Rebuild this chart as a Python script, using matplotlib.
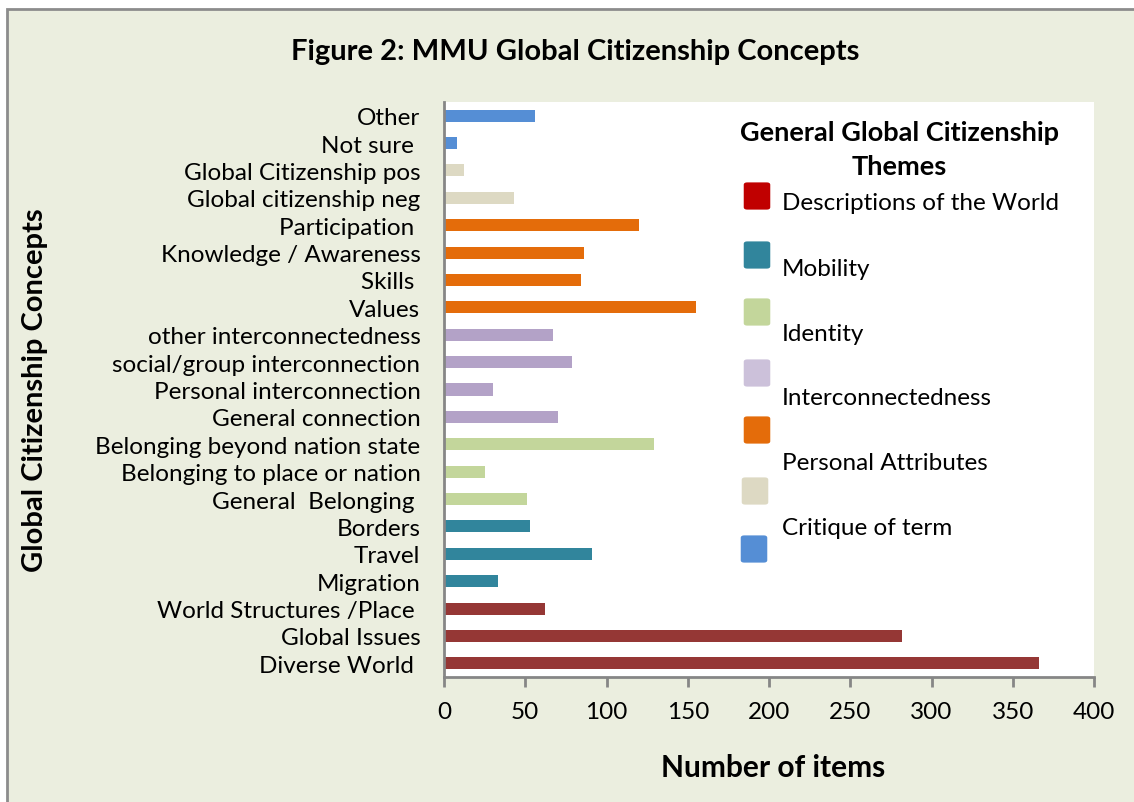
import matplotlib.pyplot as plt
from matplotlib.patches import Rectangle, FancyBboxPatch

# categories listed bottom -> top, as they are drawn
concepts = ["Diverse World ", "Global Issues", "World Structures /Place ",
            "Migration", "Travel", "Borders", "General  Belonging ",
            "Belonging to place or nation", "Belonging beyond nation state",
            "General connection", "Personal interconnection",
            "social/group interconnection", "other interconnectedness",
            "Values", "Skills ", "Knowledge / Awareness", "Participation ",
            "Global citizenship neg", "Global Citizenship pos", "Not sure ", "Other"]
items = [366, 282, 62, 33, 91, 53, 51, 25, 129, 70, 30, 79, 67,
         155, 84, 86, 120, 43, 12, 8, 56]
theme_of = [0, 0, 0, 1, 1, 1, 2, 2, 2, 3, 3, 3, 3, 4, 4, 4, 4, 5, 5, 6, 6]

themes = ["Descriptions of the World", "Mobility", "Identity",
          "Interconnectedness", "Personal Attributes", "Critique of term"]
bar_colors = ["#953735", "#31859C", "#C3D69B", "#B3A2C7", "#E46C0A", "#DDD9C3", "#558ED5"]
legend_colors = ["#C00000", "#31859C", "#C3D69B", "#CCC1DA", "#E46C0A", "#DDD9C3", "#558ED5"]

plt.rcParams['font.family'] = ['Lato', 'DejaVu Sans']
BG = "#EBEEDF"
W, H = 1134, 803
FS = 17.5

fig = plt.figure(figsize=(W / 100, H / 100), dpi=100)
fig.patch.set_facecolor("white")
fig.patches.append(Rectangle((7 / W, -0.05), 1.1, 1 - 10 / H + 0.05, transform=fig.transFigure,
                             facecolor=BG, edgecolor="#8C8C8C", linewidth=2, zorder=-5))

ax = fig.add_axes([444 / W, 1 - 678 / H, 650 / W, 575 / H])
ax.set_zorder(1)
ax.set_facecolor("white")
ypos = list(range(len(concepts)))
ax.barh(ypos, items, height=0.44, color=[bar_colors[t] for t in theme_of], zorder=2)
ax.set_ylim(-0.5, len(concepts) - 0.5)
ax.set_xlim(0, 400)
ax.set_xticks(range(0, 401, 50))
ax.set_yticks(ypos)
ax.set_yticklabels(concepts, fontsize=FS)
ax.tick_params(axis="y", length=0, pad=17)
ax.tick_params(axis="x", length=7, width=2, color="#868686", labelsize=FS, pad=10)
for s in ["top", "right"]:
    ax.spines[s].set_visible(False)
for s in ["left", "bottom"]:
    ax.spines[s].set_color("#868686")
    ax.spines[s].set_linewidth(2)

fig.text(575 / W, 1 - 52 / H, "Figure 2: MMU Global Citizenship Concepts",
         ha="center", va="center", fontsize=21, fontweight="bold")
fig.text(35 / W, 1 - 390 / H, "Global Citizenship Concepts", rotation=90,
         ha="center", va="center", fontsize=21, fontweight="bold")
fig.text(773 / W, 1 - 768 / H, "Number of items",
         ha="center", va="center", fontsize=21.5, fontweight="bold")

# legend, drawn by hand to follow the original's uneven layout
fig.text(899 / W, 1 - 150 / H, "General Global Citizenship\nThemes", ha="center",
         va="center", fontsize=19.5, fontweight="bold", linespacing=1.5)
patch_tops = [183, 242, 299, 360, 417, 478, 536]
patch_x = [744, 744, 744, 744, 744, 742, 741]
label_y = [203, 269, 335, 399, 464, 529]
for i, c in enumerate(legend_colors):
    fig.patches.append(FancyBboxPatch(((patch_x[i] + 2) / W, 1 - (patch_tops[i] + 26) / H),
                                      22 / W, 24 / H, boxstyle="round,pad=0.002,rounding_size=0.003",
                                      transform=fig.transFigure, facecolor=c, edgecolor="none",
                                      zorder=5))
for name, y in zip(themes, label_y):
    fig.text(782 / W, 1 - y / H, name, ha="left", va="center", fontsize=FS, zorder=5)

fig.savefig("out.png", dpi=100, facecolor=fig.get_facecolor())
